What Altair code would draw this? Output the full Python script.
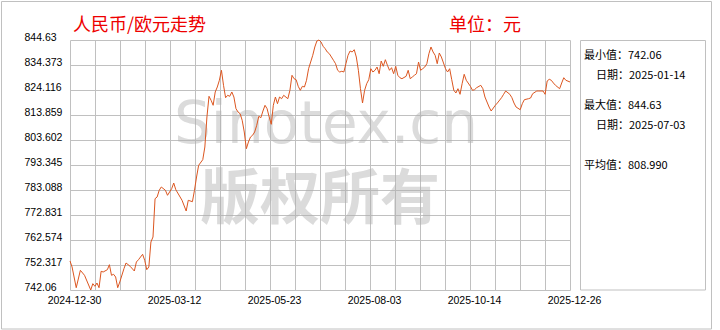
import json
import altair as alt
import pandas as pd

title_text = "人民币/欧元走势"
unit_text = "单位：元"

# trading-day index of each traced vertex, and the RMB per 100 EUR rate there
idx = [0, 1, 3, 5, 7, 10, 11, 12, 13, 14, 15, 16, 18, 19, 20, 21, 22, 23, 24, 26,
       27, 29, 31, 32, 33, 35, 36, 37, 38, 39, 40, 41, 42, 43, 44, 46, 47, 49, 50, 51,
       54, 56, 57, 59, 60, 61, 62, 64, 65, 66, 67, 68, 69, 70, 71, 72, 73, 74, 75, 76,
       77, 78, 79, 80, 81, 82, 83, 84, 85, 86, 87, 88, 89, 90, 91, 92, 93, 94, 95, 96,
       97, 98, 99, 100, 101, 102, 103, 105, 106, 107, 108, 109, 110, 111, 112, 113, 114, 115, 116, 117,
       118, 119, 120, 121, 122, 123, 124, 125, 126, 127, 128, 129, 130, 131, 132, 133, 134, 135, 136, 137,
       138, 139, 140, 141, 142, 143, 144, 145, 146, 147, 148, 149, 150, 151, 152, 153, 154, 155, 156, 157,
       158, 159, 160, 162, 163, 164, 165, 166, 167, 168, 169, 170, 171, 172, 173, 174, 175, 176, 177, 178,
       179, 181, 182, 183, 184, 185, 186, 187, 188, 189, 190, 191, 193, 194, 195, 196, 198, 199, 200, 201,
       202, 203, 205, 206, 208, 209, 210, 212, 213, 214, 215, 217, 218, 219, 221, 222, 223, 225, 226, 228,
       229, 230, 231, 232, 233, 234, 236, 237, 238, 239, 241]
rate = [753.96, 751.50, 743.00, 750.14, 748.09, 742.06, 744.65, 743.58, 744.93, 743.00,
        749.73, 749.45, 750.39, 752.44, 748.09, 748.50, 747.39, 743.00, 745.34, 750.80,
        753.14, 751.78, 749.86, 753.55, 754.49, 756.71, 754.25, 750.39, 751.50, 761.75,
        763.80, 779.52, 780.22, 782.97, 784.32, 782.97, 780.91, 783.62, 785.96, 783.21,
        778.86, 774.47, 778.86, 778.29, 782.97, 788.42, 793.22, 795.52, 800.73, 813.04,
        821.53, 819.89, 817.84, 823.30, 825.35, 828.10, 832.20, 826.04, 820.96, 821.94,
        821.53, 823.30, 821.24, 816.44, 815.09, 814.39, 811.68, 806.88, 800.03, 802.78,
        804.83, 805.53, 806.88, 809.63, 813.33, 812.75, 815.50, 817.84, 816.44, 813.04,
        810.04, 817.84, 821.24, 818.49, 821.24, 820.55, 821.94, 820.55, 823.99, 830.15,
        828.75, 828.34, 825.63, 823.99, 825.63, 825.35, 828.10, 832.85, 835.60, 838.35,
        841.76, 844.22, 844.63, 843.81, 842.05, 841.06, 839.71, 839.01, 837.66, 836.30,
        834.91, 832.20, 831.50, 831.79, 831.50, 834.91, 838.35, 840.12, 839.71, 840.65,
        837.66, 832.20, 824.65, 818.78, 823.99, 826.70, 828.34, 832.85, 831.50, 832.20,
        833.55, 830.80, 836.01, 833.84, 836.55, 834.25, 832.20, 833.27, 830.80, 833.84,
        830.15, 829.16, 828.75, 829.74, 832.20, 828.75, 829.45, 830.15, 830.80, 835.60,
        832.20, 832.85, 833.55, 834.91, 839.01, 841.76, 839.71, 838.35, 834.91, 839.30,
        837.66, 832.85, 831.50, 832.85, 828.34, 823.99, 822.89, 824.65, 822.35, 826.70,
        830.56, 828.10, 825.63, 823.99, 824.24, 825.06, 826.04, 824.65, 821.24, 819.19,
        817.14, 815.50, 817.84, 818.78, 820.96, 822.35, 823.71, 822.35, 820.96, 818.78,
        817.14, 816.03, 818.49, 820.14, 820.55, 820.83, 822.60, 823.71, 823.71, 823.71,
        822.35, 827.81, 828.51, 828.10, 826.99, 826.04, 824.65, 826.99, 829.16, 828.10,
        827.40]

y_labels = ["742.06", "752.317", "762.574", "772.831", "783.088", "793.345",
            "803.602", "813.859", "824.116", "834.373", "844.63"]
x_labels = ["2024-12-30", "2025-03-12", "2025-05-23", "2025-08-03", "2025-10-14", "2025-12-26"]

stat_names = ["最小值：", "日期：", "最大值：", "日期：", "平均值："]
stat_values = ["742.06", "2025-01-14", "844.63", "2025-07-03", "808.990"]
watermark_en = "Sinotex.cn"
watermark_cn = "版权所有"

# ---------------------------------------------------------------------------
n_last = idx[-1]
ymin, ymax = float(y_labels[0]), float(y_labels[-1])
df = pd.DataFrame({"i": idx, "v": rate})

x_ticks = [n_last * k / 20 for k in range(21)]
y_ticks = [ymin + (ymax - ymin) * k / 10 for k in range(11)]
x_expr = ("(round(datum.index*20) % 4 == 0) ? " + json.dumps(x_labels)
          + "[round(datum.index*5)] : ''")
y_expr = json.dumps(y_labels) + "[round(datum.index*10)]"

GRID = "#c0c0c0"
AXFONT = "Liberation Sans"
CJK = "Noto Sans CJK SC"

line = alt.Chart(df).mark_line(color="#dc5620", strokeWidth=1).encode(
    x=alt.X("i:Q",
            scale=alt.Scale(domain=[0, n_last], nice=False, zero=False),
            axis=alt.Axis(values=x_ticks, grid=True, gridColor=GRID, gridWidth=1,
                          domain=False, ticks=False, tickSize=0,
                          labelExpr=x_expr, labelFlush=False, labelOverlap=False,
                          labelPadding=5, labelOffset=4, labelFont=AXFONT,
                          labelFontSize=10.5, labelColor="#000", title=None)),
    y=alt.Y("v:Q",
            scale=alt.Scale(domain=[ymin, ymax], nice=False, zero=False),
            axis=alt.Axis(values=y_ticks, grid=True, gridColor=GRID, gridWidth=1,
                          domain=False, ticks=False, tickSize=0,
                          labelExpr=y_expr, labelFlush=False, labelOverlap=False,
                          labelAlign="left", labelBaseline="alphabetic",
                          labelPadding=46, labelFont=AXFONT, labelFontSize=10.5,
                          labelColor="#000", title=None)),
)

one = pd.DataFrame({"a": [0]})


def text_layer(txt, x, y, **kw):
    return alt.Chart(pd.DataFrame({"t": [txt]})).mark_text(**kw).encode(
        text="t:N", x=alt.value(x), y=alt.value(y))


wm1 = text_layer(watermark_en, 256, 86, font="DejaVu Sans", fontSize=58,
                 color="#b0b0b0", opacity=0.45, align="center", baseline="middle")
wm2 = text_layer(watermark_cn, 250, 161, font=CJK, fontSize=60, fontWeight="bold",
                 color="#b0b0b0", opacity=0.45, align="center", baseline="middle")

t1 = text_layer(title_text, 3, -14.5, font=CJK, fontSize=18, color="#ee0000",
                align="left", baseline="middle")
t2 = text_layer(unit_text, 379, -14.5, font=CJK, fontSize=18, color="#ee0000",
                align="left", baseline="middle")

outer = alt.Chart(one).mark_rect(fillOpacity=0, stroke=GRID, strokeWidth=1).encode(
    x=alt.value(-68.5), x2=alt.value(641.5), y=alt.value(-38.5), y2=alt.value(289))
box = alt.Chart(one).mark_rect(fillOpacity=0, stroke=GRID, strokeWidth=1).encode(
    x=alt.value(510.5), x2=alt.value(635.5), y=alt.value(0.5), y2=alt.value(250))

stat_x = [514, 526, 514, 526, 514]
stat_y = [16, 36, 66, 86, 126]
stats = [text_layer(n + v, sx, sy, font=CJK, fontSize=11, color="#000",
                    align="left", baseline="middle")
         for n, v, sx, sy in zip(stat_names, stat_values, stat_x, stat_y)]

chart = alt.layer(outer, wm1, wm2, box, *stats, t1, t2, line).properties(
    width=500, height=250,
    padding={"left": 70, "top": 40, "right": 150, "bottom": 40},
    autosize=alt.AutoSizeParams(type="none"),
    background="white",
).configure_view(stroke=None)

chart.save("out.html", embed_options={"renderer": "svg", "actions": False})
